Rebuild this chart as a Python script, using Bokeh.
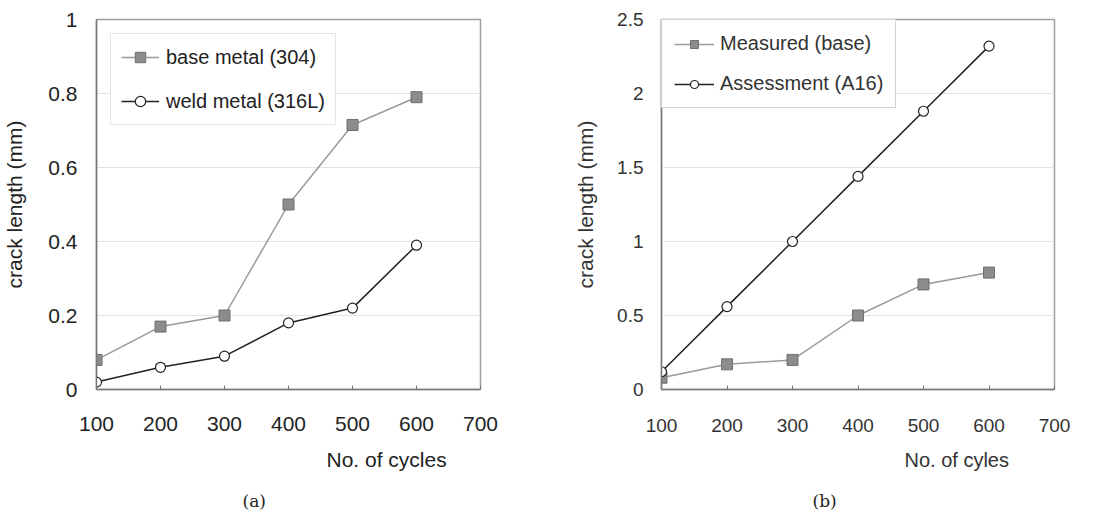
from bokeh.plotting import figure
from bokeh.layouts import row
from bokeh.models import Range1d, FixedTicker, Legend, LegendItem, Title
from bokeh.embed import file_html
from bokeh.resources import INLINE

# ---- data ----
cycles = [100, 200, 300, 400, 500, 600]
base_304 = [0.08, 0.17, 0.20, 0.50, 0.715, 0.79]
weld_316L = [0.02, 0.06, 0.09, 0.18, 0.22, 0.39]
measured_base = [0.08, 0.17, 0.20, 0.50, 0.71, 0.79]
assessment_A16 = [0.12, 0.56, 1.00, 1.44, 1.88, 2.32]

x_ticks = [100, 200, 300, 400, 500, 600, 700]
y_ticks_a = [0, 0.2, 0.4, 0.6, 0.8, 1.0]
y_labels_a = ["0", "0.2", "0.4", "0.6", "0.8", "1"]
y_ticks_b = [0, 0.5, 1.0, 1.5, 2.0, 2.5]
y_labels_b = ["0", "0.5", "1", "1.5", "2", "2.5"]

FONT = "Liberation Sans"
SERIF = "DejaVu Serif"
GRAY_LINE = "#9a9a9a"
GRAY_FILL = "#8c8c8c"
DARK = "#222222"


def base_fig(width, y_max, y_ticks, y_labels, ml, mr, mt, mb, fsize, tcolor,
             xstand, ystand, title_stand, title_size):
    p = figure(width=width, height=516, output_backend="svg", toolbar_location=None,
               x_range=Range1d(100, 700), y_range=Range1d(0, y_max),
               min_border_left=ml, min_border_right=mr, min_border_top=mt, min_border_bottom=mb)
    p.outline_line_color = "#a0a0a0"
    p.outline_line_width = 1.5
    p.xgrid.visible = False
    p.ygrid.grid_line_color = "#e2e2e2"
    p.ygrid.ticker = FixedTicker(ticks=y_ticks)
    p.xaxis.ticker = FixedTicker(ticks=x_ticks)
    p.yaxis.ticker = FixedTicker(ticks=y_ticks)
    p.yaxis.major_label_overrides = {t: l for t, l in zip(y_ticks, y_labels)}
    for ax in (p.xaxis[0], p.yaxis[0]):
        ax.axis_line_color = "#777777"
        ax.axis_line_width = 1.5
        ax.major_tick_out = 0
        ax.minor_tick_line_color = None
        ax.major_label_text_font = FONT
        ax.major_label_text_font_size = fsize
        ax.major_label_text_color = tcolor
        ax.axis_label_text_font = FONT
        ax.axis_label_text_font_style = "normal"
        ax.axis_label_text_font_size = title_size
        ax.axis_label_text_color = tcolor
    p.yaxis.major_tick_in = 0
    p.xaxis.major_tick_in = 4
    p.xaxis.major_tick_line_color = "#777777"
    p.xaxis.major_label_standoff = xstand
    p.yaxis.major_label_standoff = ystand
    p.yaxis.axis_label = "crack length (mm)"
    p.yaxis.axis_label_standoff = title_stand
    return p


def add_below(p, text, offset, font, size, color, standoff):
    p.add_layout(Title(text=text, align="left", offset=offset, standoff=standoff,
                       text_font=font, text_font_size=size, text_font_style="normal",
                       text_color=color), "below")


# ---- panel (a) ----
pa = base_fig(556, 1.0, y_ticks_a, y_labels_a, 95, 76, 17, 126, "21px", DARK, 27, 19, 19, "21px")
la = pa.line(cycles, base_304, line_color=GRAY_LINE, line_width=1.5)
sa = pa.scatter(cycles, base_304, marker="square", size=11, fill_color=GRAY_FILL,
                line_color="#6f6f6f", line_width=1)
lb = pa.line(cycles, weld_316L, line_color=DARK, line_width=1.5)
sb = pa.scatter(cycles, weld_316L, marker="circle", size=10, fill_color="white",
                line_color=DARK, line_width=1.2)
leg_a = Legend(items=[LegendItem(label="base metal (304)", renderers=[la, sa]),
                      LegendItem(label="weld metal (316L)", renderers=[lb, sb])],
               location="top_left", margin=14, padding=10, spacing=18,
               glyph_width=38, glyph_height=26, label_height=26, label_standoff=7,
               label_text_font=FONT, label_text_font_size="20px", label_text_color=DARK,
               border_line_color="#cccccc", border_line_width=1, background_fill_color="white")
pa.add_layout(leg_a)
add_below(pa, "No. of cycles", 230, FONT, "21px", DARK, 24)
add_below(pa, "(a)", 146, SERIF, "17px", DARK, 12)

# ---- panel (b) ----
pb = base_fig(558, 2.5, y_ticks_b, y_labels_b, 105, 60, 19, 127, "19px", "#333333", 29, 18, 17, "21px")
lm = pb.line(cycles, measured_base, line_color=GRAY_LINE, line_width=1.5)
sm = pb.scatter(cycles, measured_base, marker="square", size=11, fill_color=GRAY_FILL,
                line_color="#6f6f6f", line_width=1)
lA = pb.line(cycles, assessment_A16, line_color=DARK, line_width=1.5)
sA = pb.scatter(cycles, assessment_A16, marker="circle", size=10, fill_color="white",
                line_color=DARK, line_width=1.2)
leg_b = Legend(items=[LegendItem(label="Measured (base)", renderers=[lm, sm]),
                      LegendItem(label="Assessment (A16)", renderers=[lA, sA])],
               location="top_left", margin=0, padding=12, spacing=17,
               glyph_width=40, glyph_height=20, label_height=20, label_standoff=6,
               label_text_font=FONT, label_text_font_size="20px", label_text_color="#333333",
               border_line_color="#aaaaaa", border_line_width=1, background_fill_color="white")
pb.add_layout(leg_b)
add_below(pb, "No. of cyles", 243, FONT, "20px", "#333333", 24)
add_below(pb, "(b)", 151, SERIF, "17px", DARK, 12)

layout = row(pa, pb)
open("out.html", "w").write(file_html(layout, INLINE))
